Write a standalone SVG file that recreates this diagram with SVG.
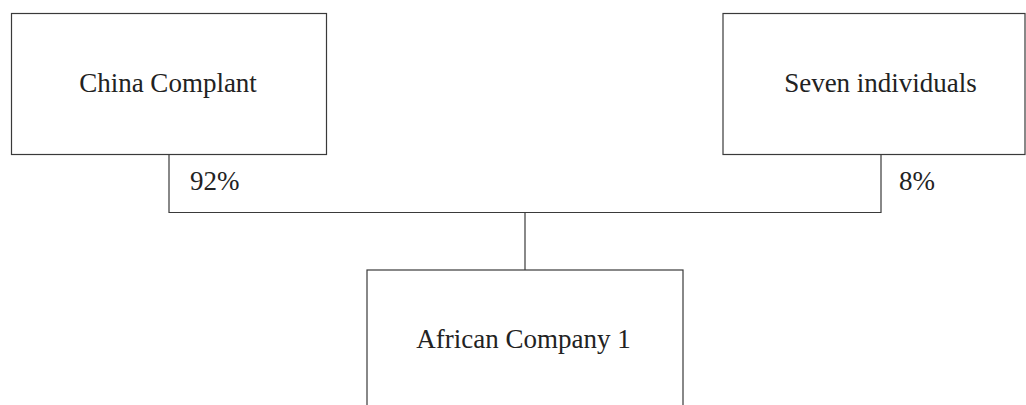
<svg xmlns="http://www.w3.org/2000/svg" width="1026" height="405" viewBox="0 0 1026 405">
<style>
.box{fill:#fff;stroke:#3a3a3a;stroke-width:1.2}
.con{fill:none;stroke:#3a3a3a;stroke-width:1.2}
text{font-family:"Liberation Serif","Times New Roman",serif;font-size:27px;fill:#222}
</style>
<rect width="1026" height="405" fill="#fff"/>
<g id="connectors">
<polyline class="con" points="169,154.5 169,212.5 881,212.5 881,154.5"/>
<line class="con" x1="525" y1="212.5" x2="525" y2="270"/>
</g>
<g id="china-complant">
<rect class="box" x="11.5" y="13.5" width="315" height="141"/>
<text x="168" y="92" text-anchor="middle">China Complant</text>
</g>
<g id="seven-individuals">
<rect class="box" x="723" y="13.5" width="302" height="141"/>
<text x="880.5" y="92" text-anchor="middle">Seven individuals</text>
</g>
<g id="african-company-1">
<rect class="box" x="367" y="270" width="316" height="150"/>
<text x="523.5" y="348" text-anchor="middle">African Company 1</text>
</g>
<g id="labels">
<text x="190" y="190">92%</text>
<text x="899" y="190">8%</text>
</g>
</svg>
